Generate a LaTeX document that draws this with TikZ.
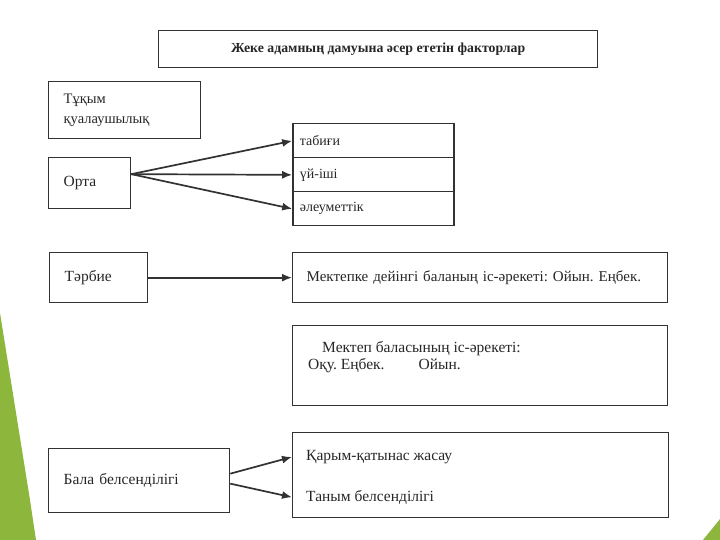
\documentclass[tikz,border=0pt]{standalone}
\usepackage{fontspec}
\setmainfont{Liberation Serif}
\usetikzlibrary{positioning,arrows.meta}
\definecolor{slidegreen}{RGB}{141,182,60}
\definecolor{inkgray}{RGB}{50,50,50}
\frenchspacing

\begin{document}
\begin{tikzpicture}[x=1pt,y=-1pt,
  box/.style={draw=inkgray,line width=1.3pt,rectangle,inner xsep=15pt,inner ysep=0pt,align=left,text=black!85,font=\fontsize{15.5}{20}\selectfont},
  cell/.style={draw=inkgray,line width=1.3pt,rectangle,minimum height=34pt,text width=147pt,inner xsep=7pt,align=left,text=black!85,font=\fontsize{14}{16}\selectfont},
  inner/.style={inner sep=0pt,anchor=west,align=left,text=black!85,font=\fontsize{15.5}{17.5}\selectfont},
  link/.style={draw=inkgray,line width=1.7pt,-{Latex[length=10pt,width=8pt]}}]
    \useasboundingbox (0,0) rectangle (720,540);
    % slide corners
    \fill[slidegreen] (0,313) -- (30,500) -- (36,540) -- (0,540) -- cycle;
    \fill[slidegreen] (703,540) -- (720,519) -- (720,540) -- cycle;
    % title
    \node (title_box) [box, anchor=north west, minimum width=439pt, minimum height=37pt,
      align=center, font=\bfseries\fontsize{13.8}{16}\selectfont] at (158,30)
      {Жеке адамның дамуына әсер ететін факторлар};
    % factors on the left
    \node (heredity_box) [box, anchor=north west, text width=122pt, minimum height=57pt,
      font=\fontsize{14.5}{20}\selectfont] at (48,81)
      {Тұқым\\қуалаушылық};
    \node (orta_box) [box, anchor=north west, text width=52pt, minimum height=51pt] at (48,157) {Орта};
    \node (tarbie_box) [box, anchor=north west, text width=68pt, minimum height=50pt] at (49,252) {Тәрбие};
    \node (bala_box) [box, anchor=north west, text width=151pt, minimum height=64pt] at (48,448)
      {Бала белсенділігі};
    % environment kinds
    \matrix (orta_matrix) [anchor=north west, inner sep=0pt, row sep=-1.3pt] at (292,123) {
      \node (orta_tabigi) [cell] {табиғи};
      \\
      \node (orta_uiishi) [cell] {үй-іші};
      \\
      \node (orta_aleumet) [cell] {әлеуметтік};
      \\
    };
    % activities on the right
    \node (preschool_box) [box, anchor=north west, inner xsep=14pt, text width=347pt, minimum height=50pt,
      font=\fontsize{15}{20}\selectfont] at (292,252)
      {Мектепке дейінгі баланың іс-әрекеті: Ойын. Еңбек.};
    \node (school_box) [box, anchor=north west, minimum width=375pt, minimum height=80pt] at (292,325) {};
    \node (school_text) [inner, anchor=north west, below right=16pt and 16pt of school_box.north west]
      {\hspace*{14pt}Мектеп баласының іс-әрекеті:\\Оқу. Еңбек.\hspace{34pt}Ойын.};
    \node (bala_act_box) [box, anchor=north west, minimum width=376pt, minimum height=85pt] at (292,432) {};
    \node (karym_text) [inner, below right=18pt and 14pt of bala_act_box.north west] {Қарым-қатынас жасау};
    \node (tanym_text) [inner, below right=58pt and 14pt of bala_act_box.north west] {Таным белсенділігі};
    % connectors
    \draw[link] ([yshift=9pt]orta_box.east) -- (orta_tabigi.west);
    \draw[link] ([yshift=9pt]orta_box.east) -- (orta_uiishi.west);
    \draw[link] ([yshift=9pt]orta_box.east) -- (orta_aleumet.west);
    \draw[link] (tarbie_box.east) -- (preschool_box.west);
    \draw[link] ([yshift=7pt]bala_box.east) -- (bala_act_box.west |- karym_text);
    \draw[link] ([yshift=-3pt]bala_box.east) -- (bala_act_box.west |- tanym_text);
\end{tikzpicture}
\end{document}
